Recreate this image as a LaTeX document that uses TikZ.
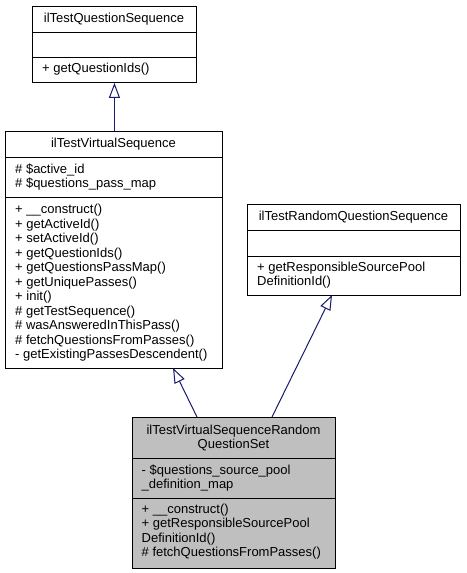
\documentclass[tikz,border=0pt]{standalone}
\usepackage{fontspec}
\setmainfont{Liberation Sans}
\usetikzlibrary{arrows.meta}
\definecolor{rootgray}{HTML}{BFBFBF}
\definecolor{edgeblue}{HTML}{191970}
\begin{document}
\begin{tikzpicture}[x=1pt,y=-1pt,
  box/.style={draw=black, line width=0.9pt, fill=white, rectangle, inner sep=0pt, anchor=north west},
  rootbox/.style={box, fill=rootgray},
  sepline/.style={draw=black, line width=0.9pt},
  txt/.style={inner sep=0pt, font=\fontsize{13}{14.5}\selectfont, anchor=base west},
  ttl/.style={txt, anchor=base},
  inh/.style={draw=edgeblue, line width=1pt, -{Triangle[open, length=15pt, width=11pt, fill=white]}}]
\useasboundingbox (0,0) rectangle (466,573);
% boxes
\node[box, minimum width=164pt, minimum height=76pt] (b1) at (32,6) {};
\node[box, minimum width=217pt, minimum height=237pt] (b2) at (5,131) {};
\node[box, minimum width=213pt, minimum height=91pt] (b3) at (247,204) {};
\node[rootbox, minimum width=203pt, minimum height=151pt] (b4) at (132,417) {};
% dividers
\draw[sepline] (b1.west |- 0,32) -- (b1.east |- 0,32);
\draw[sepline] (b1.west |- 0,57) -- (b1.east |- 0,57);
\draw[sepline] (b2.west |- 0,157) -- (b2.east |- 0,157);
\draw[sepline] (b2.west |- 0,197) -- (b2.east |- 0,197);
\draw[sepline] (b3.west |- 0,230) -- (b3.east |- 0,230);
\draw[sepline] (b3.west |- 0,256) -- (b3.east |- 0,256);
\draw[sepline] (b4.west |- 0,458) -- (b4.east |- 0,458);
\draw[sepline] (b4.west |- 0,498) -- (b4.east |- 0,498);
% box 1
\node[ttl] (t1) at (114,22.5) {ilTestQuestionSequence};
\node[txt] (m1a) at (42,72.5) {+ getQuestionIds()};
% box 2
\node[ttl] (t2) at (113.5,147.5) {ilTestVirtualSequence};
\node[txt] (a2a) at (15,173) {\# \$active\_id};
\node[txt] (a2b) at (15,187.5) {\# \$questions\_pass\_map};
\node[txt] (m2a) at (15,213.5) {+ \_\_construct()};
\node[txt] (m2b) at (15,228) {+ getActiveId()};
\node[txt] (m2c) at (15,242.5) {+ setActiveId()};
\node[txt] (m2d) at (15,257) {+ getQuestionIds()};
\node[txt] (m2e) at (15,271.5) {+ getQuestionsPassMap()};
\node[txt] (m2f) at (15,286) {+ getUniquePasses()};
\node[txt] (m2g) at (15,300.5) {+ init()};
\node[txt] (m2h) at (15,315) {\# getTestSequence()};
\node[txt] (m2i) at (15,329.5) {\# wasAnsweredInThisPass()};
\node[txt] (m2j) at (15,344) {\# fetchQuestionsFromPasses()};
\node[txt] (m2k) at (15,358.5) {- getExistingPassesDescendent()};
% box 3
\node[ttl] (t3) at (353.5,220.5) {ilTestRandomQuestionSequence};
\node[txt] (m3a) at (257,271) {+ getResponsibleSourcePool};
\node[txt] (m3b) at (257,285.5) {DefinitionId()};
% box 4
\node[ttl] (t4a) at (233.5,434) {ilTestVirtualSequenceRandom};
\node[ttl] (t4b) at (233.5,448.5) {QuestionSet};
\node[txt] (a4a) at (141.5,474) {- \$questions\_source\_pool};
\node[txt] (a4b) at (141.5,488.5) {\_definition\_map};
\node[txt] (m4a) at (141.5,513) {+ \_\_construct()};
\node[txt] (m4b) at (141.5,527.5) {+ getResponsibleSourcePool};
\node[txt] (m4c) at (141.5,542) {DefinitionId()};
\node[txt] (m4d) at (141.5,556.5) {\# fetchQuestionsFromPasses()};
% connectors
\coordinate (e1s) at (b2.north -| b1.south);
\coordinate (e2s) at (197,417);
\coordinate (e2t) at (173,368);
\coordinate (e3s) at (272,417);
\coordinate (e3t) at (332,295);
\draw[inh] (e1s) -- (b1.south);
\draw[inh] (e2s) -- (e2t);
\draw[inh] (e3s) -- (e3t);
\end{tikzpicture}
\end{document}
